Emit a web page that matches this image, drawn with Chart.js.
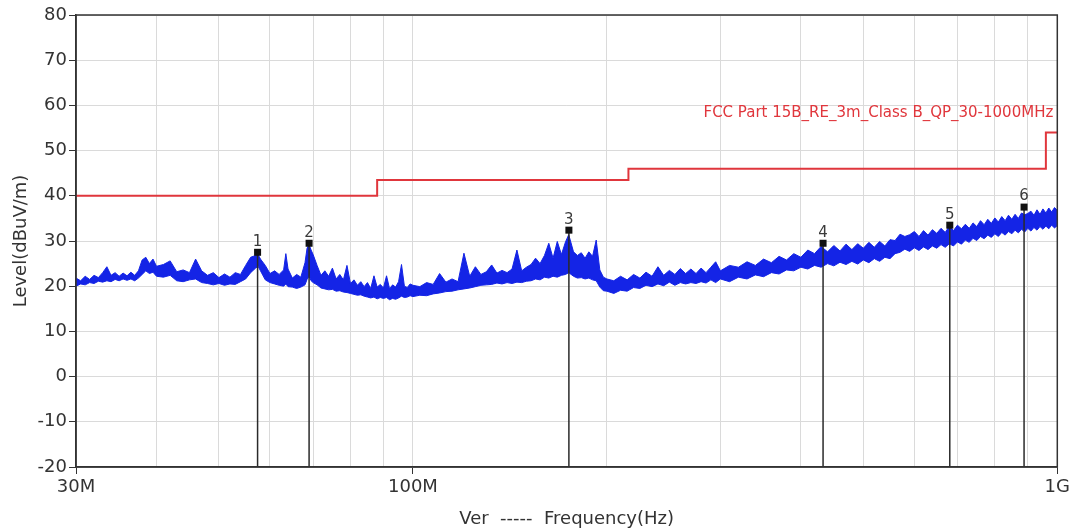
<!DOCTYPE html>
<html>
<head>
<meta charset="utf-8">
<title>FCC Part 15B RE 3m</title>
<script src="https://cdn.jsdelivr.net/npm/chart.js@4/dist/chart.umd.min.js"></script>
<style>
    html, body { margin: 0; padding: 0; background: #fff; }
    #wrap { width: 1073px; height: 532px; position: relative; }
</style>
</head>
<body>
<div id="wrap"><canvas id="chart"></canvas></div>
<script>
const freqMHz = [
    30, 30.5, 31, 31.5, 32, 32.5, 33, 33.5, 34, 34.5, 35, 35.5, 36, 36.5, 37, 37.5, 38, 38.5, 39, 39.5,
    40, 41, 42, 43, 44, 45, 46, 47, 48, 49, 50, 51, 52, 53, 54, 55, 56, 57, 57.5, 58, 59,
    60, 61, 62, 63, 63.5, 64, 65, 66, 67, 68, 68.5, 69, 69.5, 70, 71, 72, 73, 74, 75, 76, 77, 78, 79,
    80, 81, 82, 83, 84, 85, 86, 87, 88, 89, 90, 91, 92, 93, 94, 95, 96, 97, 98, 99,
    100, 102.5, 105, 107.5, 110, 112.5, 115, 117.5, 120, 122.5, 125, 127.5, 130, 132.5, 135, 137.5,
    140, 142.5, 145, 147.5, 150, 152.5, 155, 157.5, 160, 162.5, 165, 167.5, 170, 172.5, 174.5, 177.5,
    180, 182.5, 185, 187.5, 190, 192.5, 195, 197.5,
    200, 205, 210, 215, 220, 225, 230, 235, 240, 245, 250, 255, 260, 265, 270, 275, 280, 285, 290, 295,
    300, 310, 320, 330, 340, 350, 360, 370, 380, 390,
    400, 410, 420, 430, 440, 450, 460, 470, 480, 490, 500, 510, 520, 530, 540, 550, 560, 570, 580, 590,
    600, 610, 620, 630, 640, 650, 660, 670, 680, 690, 700, 710, 720, 730, 740, 750, 760, 770, 780, 790,
    800, 810, 820, 830, 840, 850, 860, 870, 880, 890, 900, 910, 920, 930, 940, 950, 960, 970, 980, 990,
    1000
];

// Bas et haut de la bande de bruit (dBuV/m)
const levelLow = [
    20.0, 20.5, 20.3, 20.8, 20.6, 21.1, 20.9, 21.2, 21.0, 21.5, 21.2, 21.6, 21.3, 21.6, 21.2, 21.8, 22.6, 23.4, 22.8, 23.1,
    22.2, 22.0, 22.4, 21.2, 21.0, 21.4, 21.6, 20.8, 20.6, 20.3, 20.6, 20.2, 20.5, 20.4, 21.0, 21.6, 23.0, 24.0, 24.4, 23.4, 21.4,
    20.8, 20.5, 20.2, 20.0, 20.5, 19.9, 19.8, 19.5, 19.8, 20.3, 21.5, 22.2, 21.2, 20.8, 20.3, 19.6, 19.4, 19.2, 19.3, 18.9, 19.0, 18.7, 18.6,
    18.4, 18.2, 18.0, 18.1, 17.8, 17.6, 17.4, 17.6, 17.2, 17.5, 17.3, 17.5, 17.0, 17.3, 17.1, 17.4, 17.8, 17.5, 17.6, 17.9,
    17.7, 18.0, 17.9, 18.3, 18.5, 18.8, 18.9, 19.2, 19.4, 19.6, 19.9, 20.2, 20.3, 20.4, 20.7, 20.5,
    20.8, 20.6, 20.9, 20.8, 21.1, 21.2, 21.6, 21.4, 22.0, 21.8, 22.2, 22.0, 22.4, 22.6, 23.0, 22.2,
    21.8, 21.9, 21.6, 21.8, 21.4, 21.2, 19.8, 19.0,
    18.9, 18.4, 19.1, 18.9, 19.7, 19.5, 20.2, 19.9, 20.5, 20.1, 20.9, 20.2, 20.8, 20.5, 20.8, 20.6, 21.0, 20.7, 21.4, 20.8,
    21.6, 21.0, 22.0, 21.6, 22.5, 22.1, 23.0, 22.7, 23.6, 23.4,
    24.2, 23.8, 24.6, 24.2, 25.0, 24.5, 25.3, 24.8, 25.5, 24.9, 25.8, 25.2, 26.1, 25.5, 26.4, 26.1, 27.2, 27.5, 28.2, 27.7,
    28.5, 27.9, 28.7, 28.1, 28.9, 28.4, 29.2, 28.6, 29.4, 28.9, 29.8, 29.3, 30.2, 29.7, 30.6, 30.1, 31.0, 30.5, 31.3, 30.8,
    31.6, 31.0, 31.9, 31.3, 32.1, 31.6, 32.4, 31.8, 32.6, 32.0, 32.8, 32.2, 33.0, 32.4, 33.2, 32.6, 33.3, 32.7, 33.5, 32.9,
    33.4
];

const levelHigh = [
    21.8, 21.2, 22.2, 21.5, 22.4, 21.9, 23.0, 24.3, 22.4, 23.0, 22.2, 22.9, 22.3, 23.1, 22.4, 23.4, 25.8, 26.4, 25.0, 26.0,
    24.4, 24.8, 25.6, 23.2, 23.6, 23.0, 26.0, 23.4, 22.4, 23.0, 21.9, 22.7, 22.0, 23.0, 22.6, 24.6, 26.4, 26.8, 27.0, 26.0, 24.6,
    22.8, 23.4, 22.6, 23.6, 27.2, 23.8, 21.8, 22.6, 22.0, 25.2, 28.4, 29.2, 28.0, 27.0, 24.6, 22.4, 23.4, 22.2, 24.0, 21.6, 22.6, 21.4, 24.6,
    20.6, 21.4, 20.2, 21.0, 19.9, 20.8, 19.5, 22.3, 19.8, 20.4, 19.6, 22.3, 19.4, 20.3, 19.8, 21.0, 24.8, 20.0, 19.7, 20.5,
    20.2, 19.9, 20.8, 20.4, 22.8, 20.9, 21.6, 21.0, 27.3, 22.2, 24.3, 22.6, 23.2, 24.7, 22.9, 23.5,
    23.0, 23.8, 28.0, 23.4, 24.2, 24.8, 26.2, 25.0, 26.8, 29.5, 26.2, 29.9, 27.0, 29.8, 31.4, 27.6,
    26.8, 27.4, 26.2, 27.6, 26.6, 30.2, 23.6, 22.0,
    21.6, 21.2, 22.2, 21.4, 22.6, 21.8, 23.1, 22.2, 24.3, 22.4, 23.5, 22.6, 23.9, 22.8, 23.8, 22.8, 24.0, 23.0, 24.2, 25.4,
    23.4, 24.6, 24.2, 25.4, 24.6, 26.0, 25.2, 26.6, 25.8, 27.2,
    26.4, 28.0, 27.2, 28.8, 27.6, 29.0, 27.8, 29.3, 28.1, 29.4, 28.4, 29.7, 28.6, 29.9, 28.9, 30.3, 30.1, 31.5, 31.0, 31.4,
    32.1, 31.0, 32.3, 31.3, 32.5, 31.7, 32.8, 31.9, 33.3, 32.3, 33.5, 32.7, 33.7, 32.8, 34.0, 33.2, 34.5, 33.6, 34.8, 33.9,
    35.1, 34.2, 35.4, 34.5, 35.7, 34.8, 35.9, 35.0, 36.2, 35.8, 36.1, 36.6, 35.7, 36.9, 35.9, 37.1, 36.2, 37.3, 36.4, 37.4,
    36.8
];

// Limite FCC classe B, quasi-crête à 3 m
const limitFreq  = [30, 88, 88, 216, 216, 960, 960, 1000];
const limitLevel = [40, 40, 43.5, 43.5, 46, 46, 54, 54];
const limitName  = 'FCC Part 15B_RE_3m_Class B_QP_30-1000MHz';

// Marqueurs de pics
const markerLabels = ['1', '2', '3', '4', '5', '6'];
const markerFreq   = [57.4, 69.0, 174.6, 433, 681, 888];
const markerLevel  = [27.5, 29.5, 32.4, 29.5, 33.5, 37.5];

// Quadrillage et étiquettes de l'axe des fréquences
const xGridMHz = [30, 40, 50, 60, 70, 80, 90, 100, 200, 300, 400, 500, 600, 700, 800, 900, 1000];
const xTickLabels = { 30: '30M', 100: '100M', 1000: '1G' };

const blue = '#1424e6';
const red = '#e0363c';
const grid = '#dadada';
const ink = '#333333';

Chart.defaults.font.family = '"DejaVu Sans", Verdana, sans-serif';
Chart.defaults.color = ink;

function points(xs, ys) {
    return xs.map(function (f, i) { return { x: f, y: ys[i] }; });
}

const markerPlugin = {
    id: 'markers',
    afterDatasetsDraw(chart) {
        const { ctx, chartArea, scales: { x, y } } = chart;
        ctx.save();

        markerFreq.forEach(function (f, i) {
            const px = x.getPixelForValue(f);
            const py = y.getPixelForValue(markerLevel[i]);
            ctx.strokeStyle = '#2a2a2a';
            ctx.lineWidth = 1.5;
            ctx.beginPath();
            ctx.moveTo(px, py);
            ctx.lineTo(px, chartArea.bottom);
            ctx.stroke();
            ctx.fillStyle = '#111';
            ctx.fillRect(px - 3.5, py - 3.5, 7, 7);
            ctx.fillStyle = '#3a3a3a';
            ctx.font = '15px "DejaVu Sans"';
            ctx.textAlign = 'center';
            ctx.textBaseline = 'bottom';
            ctx.fillText(markerLabels[i], px, py - 3);
        });

        // cadre complet autour de la zone de tracé
        ctx.strokeStyle = ink;
        ctx.lineWidth = 1.5;
        ctx.strokeRect(chartArea.left, chartArea.top, chartArea.width, chartArea.height);

        ctx.fillStyle = red;
        ctx.font = '15px "DejaVu Sans"';
        ctx.textAlign = 'right';
        ctx.textBaseline = 'middle';
        ctx.fillText(limitName, chartArea.right - 4, y.getPixelForValue(58.3));
        ctx.restore();
    }
};

new Chart(document.getElementById('chart'), {
    type: 'line',
    data: {
        datasets: [
            {
                label: limitName,
                data: points(limitFreq, limitLevel),
                borderColor: red,
                borderWidth: 2,
                pointRadius: 0,
                fill: false
            },
            {
                label: 'Ver bas',
                data: points(freqMHz, levelLow),
                borderColor: blue,
                borderWidth: 1,
                pointRadius: 0,
                fill: false
            },
            {
                label: 'Ver',
                data: points(freqMHz, levelHigh),
                borderColor: blue,
                borderWidth: 1,
                backgroundColor: blue,
                pointRadius: 0,
                fill: '-1'
            }
        ]
    },
    options: {
        responsive: true,
        maintainAspectRatio: false,
        animation: false,
        layout: { padding: { left: 0, right: 15, top: 15, bottom: 0 } },
        plugins: {
            legend: { display: false },
            tooltip: { enabled: false }
        },
        scales: {
            x: {
                type: 'logarithmic',
                min: 30,
                max: 1000,
                afterBuildTicks: function (axis) {
                    axis.ticks = xGridMHz.map(function (v) { return { value: v }; });
                },
                afterFit: function (axis) { axis.height = 65; },
                ticks: {
                    autoSkip: false,
                    maxRotation: 0,
                    minRotation: 0,
                    padding: 3,
                    font: { size: 18 },
                    callback: function (v) { return xTickLabels[v] || ''; }
                },
                grid: {
                    color: grid,
                    tickLength: 7,
                    tickColor: function (c) {
                        return c.tick && xTickLabels[c.tick.value] ? ink : 'rgba(0,0,0,0)';
                    }
                },
                border: { color: ink, width: 1.5 },
                title: {
                    display: true,
                    text: 'Ver  -----  Frequency(Hz)',
                    font: { size: 18 },
                    padding: { top: 0, bottom: 2 }
                }
            },
            y: {
                min: -20,
                max: 80,
                afterFit: function (axis) { axis.width = 76; },
                ticks: { stepSize: 10, padding: 2, font: { size: 18 } },
                grid: { color: grid, tickLength: 7, tickColor: ink },
                border: { color: ink, width: 1.5 },
                title: {
                    display: true,
                    text: 'Level(dBuV/m)',
                    font: { size: 18 },
                    padding: { top: 11, bottom: 0 }
                }
            }
        }
    },
    plugins: [markerPlugin]
});
</script>
</body>
</html>
